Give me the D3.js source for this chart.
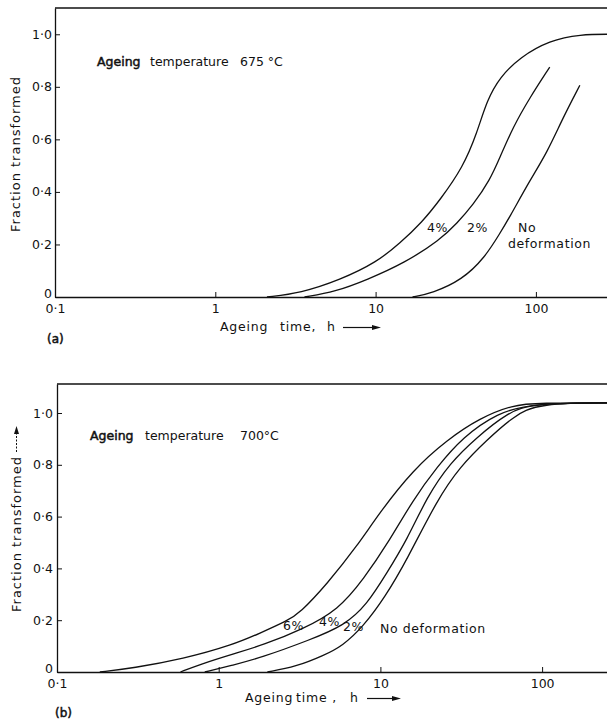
<!DOCTYPE html>
<html>
<head>
<meta charset="utf-8">
<script src="https://cdn.jsdelivr.net/npm/d3@7"></script>
<style>
  body { margin: 0; background: #fff; }
  text { font-family: "DejaVu Sans", sans-serif; fill: #111; }
</style>
</head>
<body>
<script>
// axis ticks (log time axis, linear fraction axis)
var xDomain = [0.1, 300];
var xTicks = [0.1, 1, 10, 100];
var xTickLabels = ['0·1', '1', '10', '100'];
var yTicks = [0, 0.2, 0.4, 0.6, 0.8, 1.0];
var yTickLabels = ['0', '0·2', '0·4', '0·6', '0·8', '1·0'];

// (a) ageing at 675 C : time in h, fraction transformed
var aTime4 = [2.1, 3.4, 6.0, 10.2, 14.2, 19.5, 25.2, 35.1, 42.9, 49.5, 59.7, 79.6, 122, 188, 300];
var aFrac4 = [0, 0.015, 0.065, 0.133, 0.205, 0.285, 0.369, 0.494, 0.624, 0.749, 0.837, 0.913, 0.977, 1.0, 1.0];
var aTime2 = [3.6, 5.6, 8.8, 15.2, 25.2, 32.2, 40.5, 51.7, 59.7, 71.9, 91.9, 122];
var aFrac2 = [0, 0.02, 0.065, 0.13, 0.217, 0.281, 0.350, 0.445, 0.532, 0.646, 0.760, 0.875];
var aTime0 = [17, 22.6, 34.6, 48, 59.7, 68, 91.9, 117, 148, 188];
var aFrac0 = [0, 0.015, 0.065, 0.15, 0.243, 0.3, 0.445, 0.548, 0.684, 0.806];

// (b) ageing at 700 C
var bTime6 = [0.184, 0.295, 0.601, 1.23, 1.80, 2.64, 3.18, 4.68, 7.17, 9.95, 15.9, 25.8, 41.3, 66.1, 92.9, 300];
var bFrac6 = [0, 0.015, 0.05, 0.105, 0.15, 0.197, 0.228, 0.34, 0.486, 0.618, 0.780, 0.896, 0.981, 1.031, 1.039, 1.039];
var bTime4 = [0.58, 0.77, 1.23, 1.9, 3.3, 5.5, 7.9, 11.2, 15.9, 22.4, 32.4, 52.6, 88, 300];
var bFrac4 = [0, 0.03, 0.07, 0.105, 0.165, 0.24, 0.36, 0.50, 0.664, 0.792, 0.907, 1.0, 1.039, 1.039];
var bTime2 = [0.82, 1.23, 1.80, 3.67, 6.0, 8.25, 10.9, 14.6, 19.4, 26.9, 39.6, 60.7, 88, 300];
var bFrac2 = [0, 0.027, 0.054, 0.124, 0.18, 0.26, 0.38, 0.51, 0.676, 0.807, 0.907, 1.0, 1.039, 1.039];
var bTime0 = [2.0, 3.0, 4.5, 5.8, 7.8, 10.7, 14.5, 22.4, 31.0, 45.6, 66.1, 93, 300];
var bFrac0 = [0, 0.02, 0.065, 0.10, 0.174, 0.29, 0.43, 0.664, 0.792, 0.896, 0.985, 1.039, 1.039];

var svg = d3.select('body').append('svg')
    .attr('width', 607)
    .attr('height', 721);

function drawPanel(p) {
  var x = d3.scaleLog()
      .domain(xDomain)
      .range([p.left, p.left + p.decade * Math.log10(xDomain[1] / xDomain[0])]);
  var y = d3.scaleLinear()
      .domain([0, p.yMax])
      .range([p.bottom, p.top]);

  var g = svg.append('g');

  // top frame line
  g.append('line')
    .attr('x1', p.left).attr('x2', 607)
    .attr('y1', p.top).attr('y2', p.top)
    .attr('stroke', '#111').attr('stroke-width', 1.3);

  var yAxis = g.append('g')
    .attr('transform', 'translate(' + p.left + ',0)')
    .call(d3.axisLeft(y).tickValues(yTicks)
      .tickFormat(function(d, i) { return yTickLabels[i]; })
      .tickSizeInner(-5).tickSizeOuter(0).tickPadding(p.yPad));

  var xAxis = g.append('g')
    .attr('transform', 'translate(0,' + p.bottom + ')')
    .call(d3.axisBottom(x).tickValues(xTicks)
      .tickFormat(function(d, i) { return xTickLabels[i]; })
      .tickSizeInner(-5).tickSizeOuter(0).tickPadding(7));

  [yAxis, xAxis].forEach(function(ax) {
    ax.attr('font-family', null).attr('font-size', null);
    ax.select('.domain').attr('stroke', '#111').attr('stroke-width', 1.3);
    ax.selectAll('.tick line').attr('stroke', '#111').attr('stroke-width', 1);
    ax.selectAll('.tick text').style('font-size', '12.5px').attr('fill', '#111');
  });
  // lift the "0" label a little so it clears "0·1"
  yAxis.selectAll('.tick text').filter(function(d) { return d === 0; })
    .attr('dy', '0.05em');

  var line = d3.line()
      .x(function(d) { return x(d[0]); })
      .y(function(d) { return y(d[1]); })
      .curve(d3.curveBasis);

  p.series.forEach(function(s) {
    g.append('path')
      .datum(d3.zip(s[0], s[1]))
      .attr('d', line)
      .attr('fill', 'none')
      .attr('stroke', '#111')
      .attr('stroke-width', 1.3);
  });

  // curve labels
  p.labels.forEach(function(l) {
    g.append('text')
      .attr('x', l[1]).attr('y', l[2])
      .style('font-size', '12.5px')
      .style('letter-spacing', '0.6px')
      .text(l[0]);
  });

  // title inside the plot
  var t = g.append('text').attr('y', p.titleY).style('font-size', '12.5px');
  t.append('tspan').attr('x', p.titleX[0]).attr('stroke', '#111').attr('stroke-width', 0.5).text('Ageing');
  t.append('tspan').attr('x', p.titleX[1]).text('temperature');
  t.append('tspan').attr('x', p.titleX[2]).text(p.temp);

  // x axis title with arrow
  var xt = g.append('text').attr('y', p.xTitleY)
      .style('font-size', '12.5px').style('letter-spacing', '0.8px');
  xt.append('tspan').attr('x', p.xTitleX[0]).text('Ageing');
  xt.append('tspan').attr('x', p.xTitleX[1]).text(p.timeWord);
  xt.append('tspan').attr('x', p.xTitleX[2]).text('h');
  var ay = p.xTitleY - 3.5;
  g.append('line')
    .attr('x1', p.arrow[0]).attr('x2', p.arrow[1] - 6)
    .attr('y1', ay).attr('y2', ay)
    .attr('stroke', '#111').attr('stroke-width', 1.2);
  g.append('path')
    .attr('d', 'M' + (p.arrow[1] - 9) + ',' + (ay - 2.5) + 'L' + p.arrow[1] + ',' + ay + 'L' + (p.arrow[1] - 9) + ',' + (ay + 2.5) + 'Z')
    .attr('fill', '#111');

  // y axis title
  g.append('text')
    .attr('transform', 'translate(' + p.yTitle[0] + ',' + p.yTitle[1] + ') rotate(-90)')
    .style('font-size', '13px')
    .style('letter-spacing', '1px')
    .text('Fraction transformed');

  if (p.yArrow) {
    var ax0 = p.yTitle[0] - 4.5;
    g.append('line')
      .attr('x1', ax0).attr('x2', ax0)
      .attr('y1', p.yArrow[0]).attr('y2', p.yArrow[1] + 6)
      .attr('stroke', '#111').attr('stroke-width', 1)
      .attr('stroke-dasharray', '2,1.5');
    g.append('path')
      .attr('d', 'M' + (ax0 - 2.5) + ',' + (p.yArrow[1] + 8) + 'L' + ax0 + ',' + p.yArrow[1] + 'L' + (ax0 + 2.5) + ',' + (p.yArrow[1] + 8) + 'Z')
      .attr('fill', '#111');
  }

  // panel letter
  g.append('text')
    .attr('x', p.letter[1]).attr('y', p.letter[2])
    .style('font-size', '12px')
    .attr('stroke', '#111').attr('stroke-width', 0.5)
    .text(p.letter[0]);
}

drawPanel({
  left: 55, decade: 160.3, bottom: 297, top: 8, yMax: 1.1, yPad: 3,
  series: [[aTime4, aFrac4], [aTime2, aFrac2], [aTime0, aFrac0]],
  labels: [['4%', 427, 232], ['2%', 467, 232], ['No', 518, 232], ['deformation', 508, 248]],
  titleX: [97, 150, 240], titleY: 66, temp: '675 °C',
  xTitleX: [220, 280, 327], xTitleY: 331, timeWord: 'time,', arrow: [343, 381],
  yTitle: [20, 232], yArrow: null,
  letter: ['(a)', 47, 343]
});

drawPanel({
  left: 57, decade: 161.7, bottom: 672, top: 384, yMax: 1.112, yPad: 4,
  series: [[bTime6, bFrac6], [bTime4, bFrac4], [bTime2, bFrac2], [bTime0, bFrac0]],
  labels: [['6%', 283, 630], ['4%', 319, 626], ['2%', 343, 631], ['No deformation', 380, 633]],
  titleX: [90, 145, 240], titleY: 440, temp: '700°C',
  xTitleX: [245, 296, 350], xTitleY: 702, timeWord: 'time ,', arrow: [367, 401],
  yTitle: [21, 612], yArrow: [452, 426],
  letter: ['(b)', 55, 717]
});
</script>
</body>
</html>
